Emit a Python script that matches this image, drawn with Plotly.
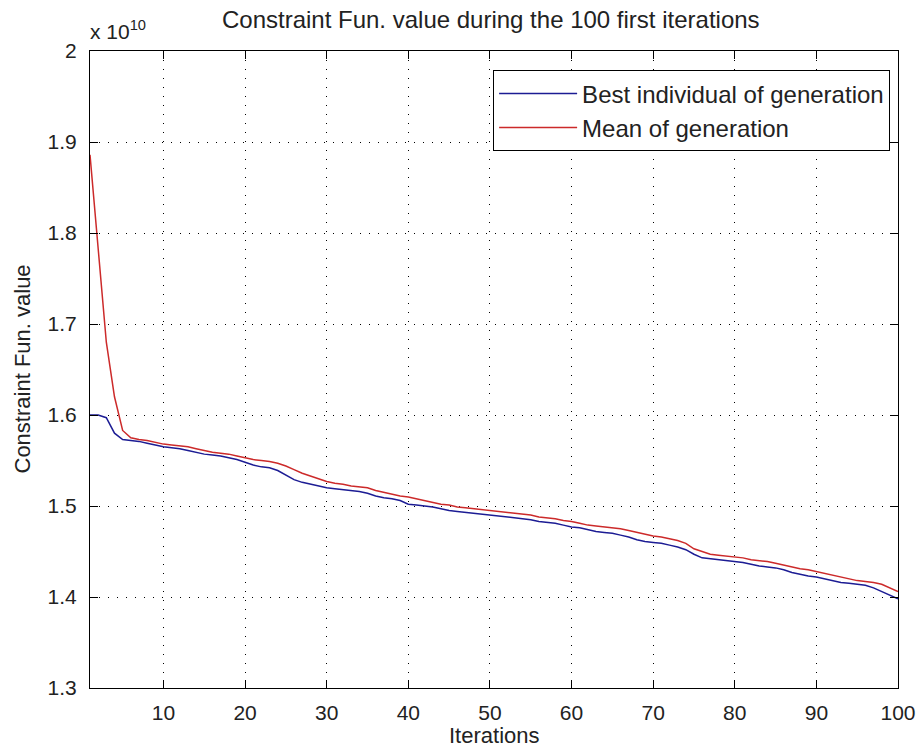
import plotly.graph_objects as go

# Iteration index
iterations = list(range(1, 101))

# Constraint function value (x 1e10) of the best individual in each generation
best_individual = [
    1.600, 1.600, 1.597, 1.580, 1.573, 1.572, 1.571, 1.569, 1.567, 1.565,
    1.564, 1.563, 1.561, 1.559, 1.557, 1.556, 1.555, 1.553, 1.551, 1.548,
    1.545, 1.543, 1.542, 1.539, 1.534, 1.529, 1.526, 1.524, 1.522, 1.520,
    1.519, 1.518, 1.517, 1.516, 1.514, 1.511, 1.509, 1.508, 1.506, 1.502,
    1.501, 1.500, 1.499, 1.497, 1.495, 1.494, 1.493, 1.492, 1.491, 1.490,
    1.489, 1.488, 1.487, 1.486, 1.485, 1.483, 1.482, 1.481, 1.479, 1.477,
    1.476, 1.474, 1.472, 1.471, 1.470, 1.468, 1.466, 1.463, 1.461, 1.460,
    1.459, 1.457, 1.455, 1.452, 1.447, 1.443, 1.442, 1.441, 1.440, 1.439,
    1.438, 1.436, 1.434, 1.433, 1.432, 1.430, 1.427, 1.425, 1.423, 1.422,
    1.420, 1.418, 1.416, 1.415, 1.414, 1.413, 1.410, 1.406, 1.402, 1.398,
]

# Mean constraint function value (x 1e10) of each generation
generation_mean = [
    1.886, 1.779, 1.680, 1.620, 1.583, 1.575, 1.573, 1.572, 1.570, 1.568,
    1.567, 1.566, 1.565, 1.563, 1.561, 1.559, 1.558, 1.557, 1.555, 1.553,
    1.551, 1.550, 1.549, 1.547, 1.544, 1.540, 1.536, 1.533, 1.530, 1.527,
    1.525, 1.524, 1.522, 1.521, 1.520, 1.517, 1.515, 1.513, 1.511, 1.510,
    1.508, 1.506, 1.504, 1.502, 1.501, 1.499, 1.498, 1.497, 1.496, 1.495,
    1.494, 1.493, 1.492, 1.491, 1.490, 1.488, 1.487, 1.486, 1.484, 1.483,
    1.481, 1.479, 1.478, 1.477, 1.476, 1.475, 1.473, 1.471, 1.469, 1.467,
    1.466, 1.464, 1.462, 1.459, 1.453, 1.450, 1.447, 1.446, 1.445, 1.444,
    1.443, 1.441, 1.440, 1.439, 1.437, 1.435, 1.433, 1.431, 1.430, 1.428,
    1.426, 1.424, 1.422, 1.420, 1.418, 1.417, 1.416, 1.414, 1.410, 1.406,
]

x_ticks = [10, 20, 30, 40, 50, 60, 70, 80, 90, 100]
y_ticks = [1.3, 1.4, 1.5, 1.6, 1.7, 1.8, 1.9, 2.0]
y_tick_labels = ["1.3", "1.4", "1.5", "1.6", "1.7", "1.8", "1.9", "2"]

FONT = "Liberation Sans, Arial, sans-serif"
TEXT = "#222222"

fig = go.Figure()
fig.add_trace(go.Scatter(
    x=iterations, y=best_individual, mode="lines",
    name="Best individual of generation",
    line=dict(color="#1c1c94", width=1.5),
))
fig.add_trace(go.Scatter(
    x=iterations, y=generation_mean, mode="lines",
    name="Mean of generation",
    line=dict(color="#cc2a2a", width=1.5),
))

axis_common = dict(
    showline=True, linecolor="black", linewidth=1.2, mirror="ticks",
    ticks="inside", ticklen=8, tickcolor="black", tickwidth=1.2,
    showgrid=True, gridcolor="black", gridwidth=1.3, griddash="1.3px,7.7px",
    zeroline=False, automargin=False,
    tickfont=dict(family=FONT, size=21, color=TEXT),
)

fig.update_xaxes(range=[1, 100], tickvals=x_ticks, ticklabelstandoff=6, **axis_common)
fig.update_yaxes(range=[1.3, 2.0], tickvals=y_ticks, ticktext=y_tick_labels,
                 ticklabelstandoff=8, **axis_common)

fig.update_layout(
    width=918, height=754,
    margin=dict(l=90, r=20, t=51, b=66),
    paper_bgcolor="white", plot_bgcolor="white",
    showlegend=True,
    legend=dict(
        x=0.99, y=0.97, xanchor="right", yanchor="top",
        bgcolor="white", bordercolor="black", borderwidth=1.2,
        font=dict(family=FONT, size=24, color=TEXT),
        itemwidth=78,
    ),
    title=dict(
        text="Constraint Fun. value during the 100 first iterations",
        x=0.496, xref="paper", xanchor="center",
        y=1 - 20 / 754, yanchor="middle",
        font=dict(family=FONT, size=24, color=TEXT),
    ),
    annotations=[
        dict(text="x 10<sup>10</sup>", x=0, y=1, xref="paper", yref="paper",
             xanchor="left", yanchor="bottom", xshift=-2, yshift=6,
             showarrow=False, font=dict(family=FONT, size=21, color=TEXT)),
        dict(text="Constraint Fun. value", x=0, y=0.5, xref="paper", yref="paper",
             xanchor="center", yanchor="middle", xshift=-68, textangle=-90,
             showarrow=False, font=dict(family=FONT, size=22, color=TEXT)),
        dict(text="Iterations", x=0.5, y=0, xref="paper", yref="paper",
             xanchor="center", yanchor="middle", yshift=-47,
             showarrow=False, font=dict(family=FONT, size=22, color=TEXT)),
    ],
)

fig.write_html("out.html")
